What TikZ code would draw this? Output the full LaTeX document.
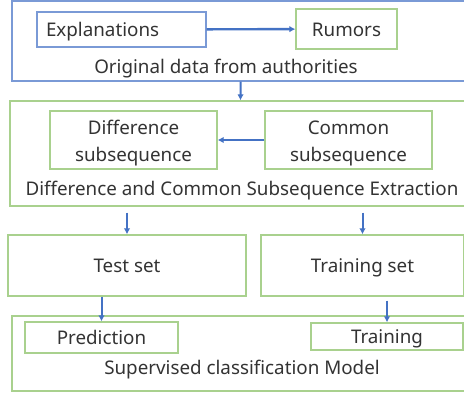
\documentclass[tikz,border=0pt]{standalone}
\usepackage{fontspec}
\setmainfont{Noto Sans}
\usepackage{xcolor}
\usetikzlibrary{arrows.meta, positioning, calc}

\definecolor{boxblue}{HTML}{7A9AD6}
\definecolor{boxgreen}{HTML}{A9D18E}
\definecolor{flowblue}{HTML}{4472C4}
\definecolor{txtgray}{HTML}{333333}

\tikzset{
    bluebox/.style={draw=boxblue, line width=1.1pt, inner sep=0pt},
    greenbox/.style={draw=boxgreen, line width=1.3pt, inner sep=0pt, align=center,
        text=txtgray, font=\fontsize{18.8}{27}\selectfont},
    oneline/.style={text height=18pt, text depth=4pt},
    twoline/.style={text height=20pt},
    lbl/.style={text=txtgray, font=\fontsize{18.8}{27}\selectfont, inner sep=0pt, oneline},
    flow/.style={draw=flowblue, line width=2pt, -{Latex[length=6pt,width=6.5pt]}}
}

\begin{document}
\begin{tikzpicture}[x=1pt, y=-1pt]
    \useasboundingbox (0,0) rectangle (464,394);

    % Original data
    \node[bluebox, minimum width=458pt, minimum height=80pt] (orig) at (241,41) {};
    \node[bluebox, lbl, minimum width=169pt, minimum height=35pt, text width=151pt,
        inner xsep=9pt, align=left] (expl) at (121.5,29.5) {Explanations};
    \node[greenbox, oneline, minimum width=101pt, minimum height=40pt] (rumor) at (346.5,29) {Rumors};
    \node[lbl] (origtxt) at (226,66) {Original data from authorities};

    % Subsequence extraction
    \node[greenbox, minimum width=460pt, minimum height=105pt] (extract) at (240,153.5) {};
    \node[greenbox, twoline, minimum width=167pt, minimum height=58pt, text width=160pt] (diff) at (133.5,140) {Difference\\subsequence};
    \node[greenbox, twoline, minimum width=167pt, minimum height=58pt, text width=160pt] (common) at (348.5,140) {Common\\subsequence};
    \node[lbl] (extracttxt) at (242,188) {Difference and Common Subsequence Extraction};

    % Data sets
    \node[greenbox, oneline, minimum width=238pt, minimum height=61pt] (test) at (127,265.5) {Test set};
    \node[greenbox, oneline, minimum width=203pt, minimum height=61pt] (train) at (362.5,265.5) {Training set};

    % Model
    \node[greenbox, minimum width=458pt, minimum height=75pt] (model) at (241,353.5) {};
    \node[greenbox, oneline, minimum width=153pt, minimum height=31pt] (pred) at (101.5,337.5) {Prediction};
    \node[greenbox, oneline, minimum width=152pt, minimum height=27pt] (trn) at (387,336.5) {Training};
    \node[lbl] (modeltxt) at (242,367) {Supervised classification Model};

    % Arrows
    \draw[flow, line width=2.4pt] (expl) -- (rumor);
    \draw[flow] (orig) -- (extract);
    \draw[flow] (common) -- (diff);
    \draw[flow, shorten <=6pt] (test.north |- extract.south) -- (test.north);
    \draw[flow, shorten <=6pt] (train.north |- extract.south) -- (train.north);
    \draw[flow] (test.south -| pred.north) -- (pred.north);
    \draw[flow, shorten <=4pt] (train.south -| trn.north) -- (trn.north);
\end{tikzpicture}
\end{document}
